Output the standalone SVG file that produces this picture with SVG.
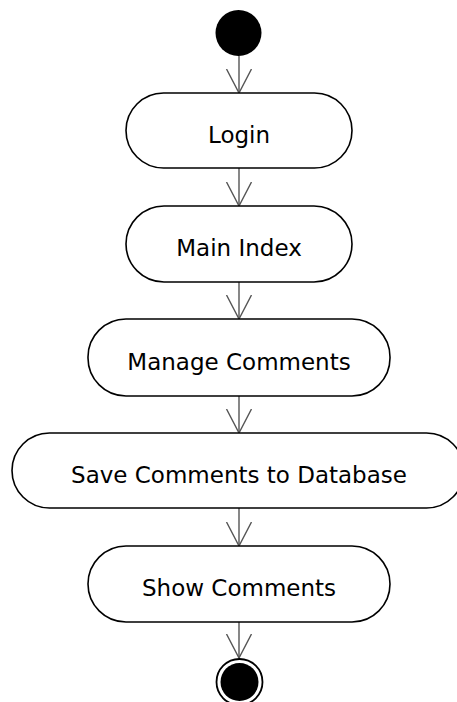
<svg xmlns="http://www.w3.org/2000/svg" width="457" height="702" viewBox="0 0 457 702">
<style>
.box{fill:#fff;stroke:#000;stroke-width:1.6}
.lbl{font-family:"DejaVu Sans","Noto Sans",sans-serif;font-size:23px;fill:#000;text-anchor:middle}
.ln{stroke:#555;stroke-width:1.4;fill:none}
</style>
<defs>
<marker id="open" markerUnits="userSpaceOnUse" markerWidth="30" markerHeight="30" refX="24" refY="12.5" orient="auto" viewBox="0 0 30 30">
<path d="M0,0 L24,12.5 L0,25" fill="none" stroke="#555" stroke-width="1.4"/>
</marker>
</defs>
<rect width="457" height="702" fill="#fff"/>
<g id="connectors">
<line class="ln" x1="239" y1="56" x2="239" y2="93" marker-end="url(#open)"/>
<line class="ln" x1="239" y1="168" x2="239" y2="206" marker-end="url(#open)"/>
<line class="ln" x1="239" y1="282" x2="239" y2="319" marker-end="url(#open)"/>
<line class="ln" x1="239" y1="396" x2="239" y2="433" marker-end="url(#open)"/>
<line class="ln" x1="239" y1="508" x2="239" y2="546" marker-end="url(#open)"/>
<line class="ln" x1="239" y1="622" x2="239" y2="658" marker-end="url(#open)"/>
</g>
<g id="start"><circle cx="238.5" cy="33" r="23" fill="#000"/></g>
<g id="login"><rect class="box" x="126" y="93" width="226" height="75" rx="37.5"/><text class="lbl" x="239" y="143">Login</text></g>
<g id="mainindex"><rect class="box" x="126" y="206" width="226" height="76" rx="38"/><text class="lbl" x="239" y="256">Main Index</text></g>
<g id="manage"><rect class="box" x="88" y="319" width="302" height="77" rx="38"/><text class="lbl" x="239" y="369.5">Manage Comments</text></g>
<g id="save"><rect class="box" x="12" y="433" width="452" height="75" rx="37.5"/><text class="lbl" x="239" y="483">Save Comments to Database</text></g>
<g id="show"><rect class="box" x="88" y="546" width="302" height="76" rx="38"/><text class="lbl" x="239" y="596">Show Comments</text></g>
<g id="end"><circle cx="239.5" cy="682" r="23" fill="#fff" stroke="#000" stroke-width="1.8"/><circle cx="239.5" cy="682" r="19" fill="#000"/></g>
</svg>
